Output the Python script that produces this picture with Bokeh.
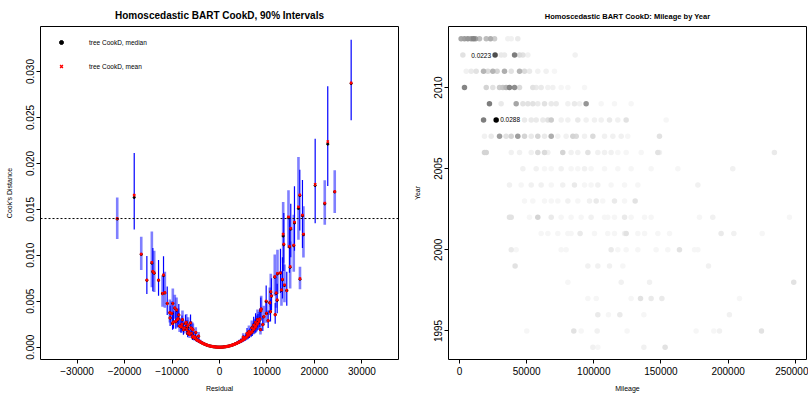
import math
from bokeh.plotting import figure
from bokeh.layouts import row
from bokeh.models import (Range1d, Span, Legend, LegendItem, ColumnDataSource, FixedTicker,
                          PrintfTickFormatter, CustomJSTickFormatter)
from bokeh.embed import file_html
from bokeh.resources import INLINE
from bokeh.core.properties import value

FONT = "Liberation Sans"

# ---------------- Left panel data: residual vs Cook's distance (90% intervals) ----------------
residual = [
    -21540, -17960, -16480, -15300, -14250, -14040, -13750, -12840, -12000, -11790,
    -11510, -11010, -10460, -10400, -10040, -9890, -9830, -9680, -9410, -9200,
    -9050, -8910, -8700, -8570, -8400, -8100, -8000, -7900, -7800, -7600,
    -7400, -7160, -7000, -6900, -6800, -6700, -6600, -6500, -6300, -6100,
    -6000, -5900, -5750, -5700, -5600, -5500, -5300, -5100, -5000, -4900,
    -4700, -4500, -4400, -4300, -4100, -3900, -3700, -3500, -3300, -3100,
    -2900, -2700, -2500, -2300, -2100, -1900, -1700, -1500, -1300, -1100,
    -900, -700, -500, -300, -100, 100, 300, 500, 700, 900,
    1100, 1300, 1500, 1700, 1900, 2100, 2300, 2500, 2700, 2900,
    3100, 3300, 3500, 3700, 3900, 4100, 4300, 4500, 4700, 4900,
    5000, 5100, 5300, 5500, 5700, 5800, 5900, 6100, 6200, 6300,
    6500, 6700, 6800, 6900, 7100, 7200, 7300, 7500, 7580, 7600,
    7700, 7900, 8000, 8100, 8300, 8480, 8630, 8700, 8780, 9120,
    9330, 9830, 9890, 10250, 10590, 10740, 10800, 10950, 11640, 11730,
    11940, 12150, 12210, 12840, 13050, 13260, 13410, 13540, 13680, 14170,
    14530, 14740, 14880, 15010, 15640, 15790, 16630, 16910, 16950, 17470,
    17680, 20150, 22170, 22800, 24270, 27730]

cook_mean = [
    0.01400, 0.01654, 0.01014, 0.00731, 0.00923, 0.00825, 0.00810, 0.00731, 0.00586, 0.00786,
    0.00594, 0.00478, 0.00377, 0.00319, 0.00369, 0.00260, 0.00478, 0.00276, 0.00428, 0.00280,
    0.00406, 0.00300, 0.00310, 0.00352, 0.00230, 0.00220, 0.00225, 0.00250, 0.00300, 0.00190,
    0.00210, 0.00260, 0.00270, 0.00190, 0.00217, 0.00150, 0.00240, 0.00170, 0.00140, 0.00265,
    0.00210, 0.00150, 0.00200, 0.00110, 0.00190, 0.00120, 0.00100, 0.00110, 0.00160, 0.00085,
    0.00078, 0.00072, 0.00120, 0.00066, 0.00060, 0.00052, 0.00047, 0.00042, 0.00037, 0.00033,
    0.00029, 0.00024, 0.00021, 0.00018, 0.00015, 0.00012, 0.00010, 0.00008, 0.00006, 0.00004,
    0.00003, 0.00002, 0.00001, 0.000005, 0.000001, 0.000001, 0.000004, 0.00001, 0.000018, 0.000028,
    0.00004, 0.000055, 0.00007, 0.00009, 0.00011, 0.00014, 0.00017, 0.00020, 0.00023, 0.00027,
    0.00031, 0.00035, 0.00040, 0.00044, 0.00050, 0.00055, 0.00060, 0.00066, 0.00072, 0.00080,
    0.00110, 0.00086, 0.00094, 0.00100, 0.00110, 0.00150, 0.00120, 0.00130, 0.00170, 0.00140,
    0.00150, 0.00160, 0.00210, 0.00170, 0.00190, 0.00240, 0.00200, 0.00220, 0.00217, 0.00270,
    0.00230, 0.00250, 0.00300, 0.00260, 0.00280, 0.00308, 0.00192, 0.00398, 0.00417, 0.00246,
    0.00333, 0.00500, 0.00369, 0.00290, 0.00485, 0.00387, 0.00604, 0.00558, 0.00767, 0.00355,
    0.00590, 0.00514, 0.00803, 0.00810, 0.00623, 0.00738, 0.01230, 0.01122, 0.00677, 0.00619,
    0.01418, 0.01096, 0.00876, 0.01292, 0.01110, 0.01360, 0.01527, 0.01657, 0.00746, 0.01437,
    0.01230, 0.01773, 0.01567, 0.02236, 0.01693, 0.02876]

cook_median = [
    0.01395, 0.01630, 0.01010, 0.00728, 0.00915, 0.00820, 0.00805, 0.00728, 0.00583, 0.00780,
    0.00590, 0.00475, 0.00375, 0.00318, 0.00366, 0.00258, 0.00475, 0.00274, 0.00425, 0.00278,
    0.00403, 0.00298, 0.00308, 0.00350, 0.00229, 0.00219, 0.00224, 0.00248, 0.00298, 0.00189,
    0.00209, 0.00258, 0.00268, 0.00189, 0.00216, 0.00149, 0.00238, 0.00169, 0.00139, 0.00263,
    0.00209, 0.00149, 0.00199, 0.00109, 0.00189, 0.00119, 0.00099, 0.00109, 0.00159, 0.00084,
    0.00077, 0.00071, 0.00119, 0.00065, 0.00059, 0.00051, 0.00046, 0.00041, 0.00036, 0.00032,
    0.00028, 0.00023, 0.00020, 0.00017, 0.00014, 0.00011, 0.00009, 0.00007, 0.00005, 0.00004,
    0.00003, 0.00002, 0.00001, 0.000005, 0.000001, 0.000001, 0.000004, 0.00001, 0.000017, 0.000027,
    0.00004, 0.000054, 0.00007, 0.00009, 0.00011, 0.00014, 0.00017, 0.00020, 0.00023, 0.00027,
    0.00031, 0.00035, 0.00040, 0.00044, 0.00050, 0.00055, 0.00060, 0.00066, 0.00072, 0.00080,
    0.00110, 0.00086, 0.00094, 0.00100, 0.00110, 0.00150, 0.00120, 0.00130, 0.00170, 0.00140,
    0.00150, 0.00160, 0.00210, 0.00170, 0.00190, 0.00240, 0.00200, 0.00220, 0.00216, 0.00270,
    0.00230, 0.00250, 0.00300, 0.00260, 0.00280, 0.00306, 0.00191, 0.00395, 0.00414, 0.00245,
    0.00331, 0.00497, 0.00367, 0.00288, 0.00482, 0.00385, 0.00600, 0.00555, 0.00762, 0.00353,
    0.00586, 0.00510, 0.00798, 0.00805, 0.00620, 0.00733, 0.01210, 0.01115, 0.00672, 0.00615,
    0.01410, 0.01090, 0.00870, 0.01285, 0.01105, 0.01352, 0.01510, 0.01650, 0.00740, 0.01430,
    0.01225, 0.01760, 0.01560, 0.02210, 0.01690, 0.02870]

cook_lo = [
    0.01177, 0.01281, 0.00840, 0.00580, 0.00651, 0.00610, 0.00600, 0.00560, 0.00440, 0.00600,
    0.00430, 0.00350, 0.00270, 0.00230, 0.00260, 0.00190, 0.00350, 0.00200, 0.00310, 0.00200,
    0.00290, 0.00215, 0.00225, 0.00250, 0.00165, 0.00158, 0.00160, 0.00180, 0.00215, 0.00136,
    0.00150, 0.00185, 0.00195, 0.00135, 0.00155, 0.00108, 0.00172, 0.00122, 0.00100, 0.00190,
    0.00150, 0.00108, 0.00143, 0.00079, 0.00136, 0.00086, 0.00072, 0.00079, 0.00115, 0.00061,
    0.00056, 0.00052, 0.00086, 0.00047, 0.00043, 0.00037, 0.00034, 0.00030, 0.00026, 0.00024,
    0.00021, 0.00017, 0.00015, 0.00013, 0.00011, 0.00009, 0.00007, 0.00006, 0.00004, 0.00003,
    0.00002, 0.00001, 0.0, 0.0, 0.0, 0.0, 0.0, 0.0, 0.00001, 0.00002,
    0.00003, 0.00004, 0.00005, 0.00006, 0.00008, 0.00010, 0.00012, 0.00014, 0.00016, 0.00019,
    0.00022, 0.00025, 0.00029, 0.00032, 0.00036, 0.00040, 0.00043, 0.00048, 0.00052, 0.00058,
    0.00080, 0.00062, 0.00068, 0.00072, 0.00080, 0.00108, 0.00086, 0.00094, 0.00122, 0.00100,
    0.00108, 0.00115, 0.00150, 0.00122, 0.00137, 0.00172, 0.00144, 0.00158, 0.00156, 0.00194,
    0.00165, 0.00180, 0.00216, 0.00187, 0.00200, 0.00220, 0.00138, 0.00285, 0.00300, 0.00177,
    0.00240, 0.00360, 0.00265, 0.00210, 0.00350, 0.00280, 0.00440, 0.00400, 0.00560, 0.00255,
    0.00430, 0.00370, 0.00580, 0.00590, 0.00450, 0.00530, 0.00920, 0.00830, 0.00490, 0.00450,
    0.01080, 0.00810, 0.00640, 0.00980, 0.00820, 0.01050, 0.01170, 0.01270, 0.00630, 0.01080,
    0.00977, 0.01350, 0.01332, 0.01755, 0.01459, 0.02471]

cook_hi = [
    0.01628, 0.02113, 0.01202, 0.00992, 0.01259, 0.01080, 0.01050, 0.00950, 0.00780, 0.00990,
    0.00820, 0.00660, 0.00520, 0.00450, 0.00500, 0.00370, 0.00640, 0.00390, 0.00570, 0.00390,
    0.00540, 0.00410, 0.00420, 0.00470, 0.00320, 0.00305, 0.00310, 0.00345, 0.00400, 0.00265,
    0.00290, 0.00350, 0.00360, 0.00262, 0.00295, 0.00210, 0.00325, 0.00235, 0.00195, 0.00355,
    0.00285, 0.00208, 0.00272, 0.00153, 0.00258, 0.00166, 0.00139, 0.00152, 0.00218, 0.00118,
    0.00108, 0.00100, 0.00165, 0.00092, 0.00083, 0.00072, 0.00065, 0.00058, 0.00051, 0.00046,
    0.00040, 0.00033, 0.00029, 0.00025, 0.00021, 0.00017, 0.00014, 0.00011, 0.00009, 0.00006,
    0.00004, 0.00003, 0.00002, 0.00001, 0.000003, 0.000003, 0.00001, 0.00002, 0.00003, 0.00004,
    0.00006, 0.00008, 0.00010, 0.00013, 0.00016, 0.00020, 0.00024, 0.00028, 0.00032, 0.00038,
    0.00043, 0.00049, 0.00056, 0.00062, 0.00070, 0.00077, 0.00084, 0.00092, 0.00100, 0.00112,
    0.00152, 0.00120, 0.00130, 0.00140, 0.00153, 0.00208, 0.00167, 0.00180, 0.00235, 0.00195,
    0.00208, 0.00222, 0.00290, 0.00236, 0.00263, 0.00330, 0.00277, 0.00305, 0.00300, 0.00370,
    0.00318, 0.00345, 0.00410, 0.00360, 0.00385, 0.00420, 0.00265, 0.00540, 0.00560, 0.00340,
    0.00450, 0.00670, 0.00500, 0.00400, 0.00650, 0.00520, 0.00800, 0.00750, 0.01010, 0.00480,
    0.00790, 0.00690, 0.01060, 0.01070, 0.00830, 0.00980, 0.01580, 0.01460, 0.00900, 0.00820,
    0.01708, 0.01420, 0.01150, 0.01560, 0.01440, 0.01752, 0.02070, 0.01932, 0.00876, 0.01820,
    0.01535, 0.02268, 0.01817, 0.02840, 0.01925, 0.03347]

cook_threshold = 0.014
x_ticks_left = [-30000, -20000, -10000, 0, 10000, 20000, 30000]
y_ticks_left = [0.000, 0.005, 0.010, 0.015, 0.020, 0.025, 0.030]

# ---------------- Right panel data: mileage by year, shaded by Cook's D ----------------
years = [2013, 2012, 2011, 2010, 2009, 2008, 2007, 2006, 2005, 2004,
         2003, 2002, 2001, 2000, 1999, 1998, 1997, 1996, 1995, 1994]

mileage_by_year = [
    [1200, 3700, 6200, 8700, 10400, 11900, 14900, 19900, 23100, 26100, 36000, 38500, 43400],
    [2500, 26500, 31000, 33500, 41000, 44700, 47200, 50900, 86100],
    [5000, 8700, 12400, 17900, 21100, 24800, 28000, 33500, 38500, 44700, 48400, 52100, 58300, 64500, 70700],
    [3700, 19900, 24800, 29800, 32300, 34700, 37200, 41000, 44700, 54600, 57100, 60800, 65800, 69500,
     75700, 80700, 93100],
    [22300, 31000, 42200, 47200, 50900, 54600, 58300, 63300, 68300, 72000, 80700, 85600, 89400, 94300,
     105500, 115400, 127800],
    [17900, 27300, 48400, 53400, 57100, 62100, 65800, 68300, 75700, 80700, 88100, 94300, 100500, 105500,
     111700, 117900, 124100, 153900],
    [18600, 23600, 29800, 34700, 38500, 43400, 48400, 53400, 58300, 63300, 68300, 73200, 79400, 84400,
     86900, 93100, 99300, 108000, 114200, 120400, 125300, 148900],
    [18600, 19900, 38500, 44700, 53400, 58300, 63300, 65800, 76900, 83100, 88100, 95600, 103000, 108000,
     112900, 117900, 124100, 135300, 147700, 148900, 234500],
    [47200, 57100, 63300, 68300, 75700, 83100, 88100, 93100, 98000, 108000, 117900, 127800, 142700,
     162600, 203500],
    [37200, 45900, 53400, 60800, 68300, 76900, 85600, 93100, 98000, 103000, 112900, 122900, 132800, 177500],
    [48400, 54600, 63300, 68300, 73200, 80700, 88100, 96800, 101800, 106700, 115400, 122900, 130800],
    [37200, 38500, 52100, 58300, 68300, 75700, 83100, 90600, 98000, 108000, 110400, 115400, 122900,
     127800, 137800, 142700, 178700, 188600, 245700],
    [60800, 65800, 73200, 80700, 83100, 89800, 100500, 110400, 115400, 122900, 124100, 132800, 137800,
     147700, 156400, 194800, 204300, 225400],
    [38500, 42200, 75700, 79400, 112900, 117900, 124100, 132800, 146400, 155100, 163800, 175000, 177500],
    [41400, 95600, 103000, 111700, 121600, 185400],
    [80700, 120400, 141500, 248900],
    [95600, 101800, 127800, 134800, 142700, 150700, 208500],
    [103000, 110900, 119400, 137300, 201000],
    [50100, 85100, 90600, 102500, 124800, 176200, 189400, 193600, 224900],
    [99300, 103000, 137300, 153100],
]

cookd_by_year = [
    [0.012, 0.013, 0.014, 0.014, 0.016, 0.013, 0.009, 0.009, 0.011, 0.007, 0.002, 0.002, 0.003],
    [0.004, 0.0223, 0.003, 0.003, 0.017, 0.005, 0.004, 0.002, 0.002],
    [0.002, 0.003, 0.004, 0.010, 0.005, 0.010, 0.006, 0.011, 0.004, 0.010, 0.005, 0.003, 0.002, 0.002, 0.001],
    [0.016, 0.006, 0.004, 0.007, 0.008, 0.010, 0.016, 0.015, 0.005, 0.004, 0.003, 0.003, 0.002, 0.002,
     0.001, 0.001, 0.001],
    [0.017, 0.003, 0.012, 0.004, 0.004, 0.004, 0.003, 0.004, 0.003, 0.003, 0.002, 0.003, 0.002, 0.014,
     0.001, 0.001, 0.001],
    [0.017, 0.0288, 0.003, 0.003, 0.003, 0.003, 0.004, 0.007, 0.002, 0.002, 0.003, 0.002, 0.002, 0.002,
     0.003, 0.002, 0.004, 0.001],
    [0.002, 0.003, 0.013, 0.004, 0.006, 0.013, 0.006, 0.003, 0.006, 0.003, 0.011, 0.002, 0.002, 0.006,
     0.005, 0.002, 0.005, 0.002, 0.002, 0.002, 0.001, 0.004],
    [0.006, 0.006, 0.002, 0.002, 0.002, 0.005, 0.005, 0.002, 0.006, 0.002, 0.002, 0.004, 0.002, 0.002,
     0.002, 0.001, 0.001, 0.001, 0.004, 0.002, 0.003],
    [0.002, 0.002, 0.001, 0.001, 0.002, 0.001, 0.001, 0.002, 0.001, 0.001, 0.001, 0.001, 0.001, 0.001, 0.002],
    [0.002, 0.001, 0.002, 0.002, 0.001, 0.002, 0.003, 0.001, 0.001, 0.002, 0.001, 0.001, 0.001, 0.002],
    [0.001, 0.001, 0.001, 0.001, 0.001, 0.002, 0.001, 0.002, 0.003, 0.001, 0.003, 0.001, 0.004],
    [0.004, 0.004, 0.001, 0.006, 0.003, 0.001, 0.001, 0.001, 0.002, 0.001, 0.001, 0.001, 0.003, 0.001,
     0.001, 0.001, 0.001, 0.002, 0.001],
    [0.001, 0.001, 0.001, 0.001, 0.001, 0.003, 0.001, 0.001, 0.001, 0.002, 0.004, 0.001, 0.001, 0.001,
     0.001, 0.003, 0.002, 0.001],
    [0.003, 0.001, 0.001, 0.001, 0.003, 0.001, 0.001, 0.001, 0.001, 0.001, 0.004, 0.001, 0.001],
    [0.004, 0.002, 0.002, 0.002, 0.001, 0.002],
    [0.001, 0.002, 0.002, 0.004],
    [0.001, 0.001, 0.001, 0.004, 0.003, 0.003, 0.001],
    [0.003, 0.001, 0.003, 0.001, 0.002],
    [0.001, 0.004, 0.001, 0.002, 0.001, 0.001, 0.001, 0.002, 0.004],
    [0.002, 0.001, 0.002, 0.004],
]

x_ticks_right = [0, 50000, 100000, 150000, 200000, 250000]
y_ticks_right = [1995, 2000, 2005, 2010]

n = len(residual)
assert all(len(a) == n for a in (cook_mean, cook_median, cook_lo, cook_hi))
for m, c in zip(mileage_by_year, cookd_by_year):
    assert len(m) == len(c)


def style(p, xlabel, ylabel, tick_size="10px", label_size="7px"):
    p.outline_line_color = "black"
    p.outline_line_width = 1
    p.xgrid.visible = False
    p.ygrid.visible = False
    p.background_fill_color = "white"
    p.border_fill_color = "white"
    for ax in p.axis:
        ax.axis_line_color = None
        ax.major_tick_line_color = "black"
        ax.major_tick_out = 4
        ax.major_tick_in = 0
        ax.minor_tick_line_color = None
        ax.major_label_text_font = FONT
        ax.major_label_text_font_size = tick_size
        ax.major_label_text_color = "black"
        ax.axis_label_text_font = FONT
        ax.axis_label_text_font_size = label_size
        ax.axis_label_text_font_style = "normal"
        ax.axis_label_text_color = "black"
        ax.major_label_standoff = 3
    p.xaxis.axis_label = xlabel
    p.yaxis.axis_label = ylabel
    p.xaxis.axis_label_standoff = 7
    p.yaxis.axis_label_standoff = 11
    p.yaxis.major_label_orientation = "parallel"
    p.yaxis.major_label_standoff = 2


def style_title(p, text, size):
    p.title.text = text
    p.title.align = "center"
    p.title.vertical_align = "middle"
    p.title.text_font = FONT
    p.title.text_font_size = size
    p.title.text_font_style = "bold"
    p.title.text_color = "black"


# ---------------- Left figure ----------------
left = figure(width=404, height=394, x_range=Range1d(-37700, 37700), y_range=Range1d(-0.00134, 0.0349),
              output_backend="svg", toolbar_location=None,
              min_border_left=40, min_border_right=6, min_border_top=26, min_border_bottom=35)
style(left, "Residual", "Cook's Distance")
style_title(left, "Homoscedastic BART CookD, 90% Intervals", "10px")
left.xaxis.ticker = FixedTicker(ticks=x_ticks_left)
left.yaxis.ticker = FixedTicker(ticks=y_ticks_left)
left.xaxis.formatter = CustomJSTickFormatter(code="return String(Math.round(tick)).replace('-', '\u2212');")
left.yaxis.formatter = PrintfTickFormatter(format="%.3f")

idx_a = [i for i in range(n) if i % 2 == 0]
idx_b = [i for i in range(n) if i % 2 == 1]
src_a = ColumnDataSource(dict(x=[residual[i] for i in idx_a], lo=[cook_lo[i] for i in idx_a],
                              hi=[cook_hi[i] for i in idx_a]))
src_b = ColumnDataSource(dict(x=[residual[i] for i in idx_b], lo=[cook_lo[i] for i in idx_b],
                              hi=[cook_hi[i] for i in idx_b]))
left.segment(x0="x", y0="lo", x1="x", y1="hi", source=src_a, line_color="#0000ff", line_alpha=0.5,
             line_width=2.6)
left.segment(x0="x", y0="lo", x1="x", y1="hi", source=src_b, line_color="#0000ff", line_width=1.2)

r_med = left.scatter(residual, cook_median, marker="circle", size=2.2, fill_color="black", line_color="black")
r_mean = left.scatter(residual, cook_mean, marker="x", size=3.2, line_color="red", line_width=1.4)

left.add_layout(Span(location=cook_threshold, dimension="width", line_color="black", line_width=1,
                     line_dash="2 2"))

legend = Legend(items=[LegendItem(label="tree CookD, median", renderers=[r_med]),
                       LegendItem(label="tree CookD, mean", renderers=[r_mean])],
                location="top_left", margin=11, padding=13, spacing=14, glyph_width=20, glyph_height=10,
                label_height=10, label_standoff=18, background_fill_alpha=0, border_line_color=None,
                label_text_font=FONT, label_text_font_size="6.5px", label_text_color="black")
left.add_layout(legend)

# ---------------- Right figure ----------------
right = figure(width=404, height=394, x_range=Range1d(-8200, 258400), y_range=Range1d(1993.24, 2013.76),
               output_backend="svg", toolbar_location=None,
               min_border_left=44, min_border_right=2, min_border_top=26, min_border_bottom=35)
style(right, "Mileage", "Year")
style_title(right, "Homoscedastic BART CookD: Mileage by Year", "7.5px")
right.xaxis.ticker = FixedTicker(ticks=x_ticks_right)
right.yaxis.ticker = FixedTicker(ticks=y_ticks_right)
right.xaxis.formatter = PrintfTickFormatter(format="%d")
right.yaxis.formatter = PrintfTickFormatter(format="%d")

mx, my, mc = [], [], []
for yr, ms, cs in zip(years, mileage_by_year, cookd_by_year):
    for m, c in zip(ms, cs):
        mx.append(m)
        my.append(yr)
        mc.append(c)
cmax = max(mc)
order = sorted(range(len(mc)), key=lambda i: mc[i])


def grey(c):
    g = int(round(255 * (1 - c / cmax) ** 0.8))
    g = min(g, 246)
    return "#%02x%02x%02x" % (g, g, g)


right.scatter([mx[i] for i in order], [my[i] for i in order], marker="circle", size=5.5,
              fill_color=[grey(mc[i]) for i in order], line_color=None)

top2 = sorted(range(len(mc)), key=lambda i: -mc[i])[:2]
i_max, i_second = top2
right.text(x=[mx[i_max]], y=[my[i_max]], text=["%.4f" % mc[i_max]], text_align="left",
           text_baseline="middle", x_offset=4, text_font=value(FONT), text_font_size="6.5px",
           text_color="black")
right.text(x=[mx[i_second]], y=[my[i_second]], text=["%.4f" % mc[i_second]], text_align="right",
           text_baseline="middle", x_offset=-4, text_font=value(FONT), text_font_size="6.5px",
           text_color="black")

layout = row(left, right)
open("out.html", "w").write(file_html(layout, INLINE))
